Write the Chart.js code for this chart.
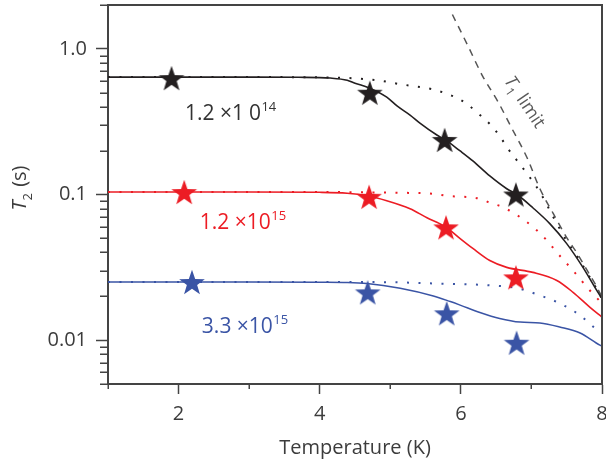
<!DOCTYPE html>
<html>
<head>
<meta charset="utf-8">
<script src="https://cdn.jsdelivr.net/npm/chart.js@4.4.1/dist/chart.umd.min.js"></script>
<style>
  html, body { margin: 0; padding: 0; background: #fff; }
  canvas { display: block; }
</style>
</head>
<body>
<canvas id="t2Chart" width="606" height="463"></canvas>
<script>
// axis ticks
const xTicks = [2, 4, 6, 8];
const xMinorTicks = [1, 3, 5, 7];
const yTicks = [0.01, 0.1, 1];
const yTickLabels = ['0.01', '0.1', '1.0'];
const yMinorTicks = [0.005, 0.006, 0.007, 0.008, 0.009,
                     0.02, 0.03, 0.04, 0.05, 0.06, 0.07, 0.08, 0.09,
                     0.2, 0.3, 0.4, 0.5, 0.6, 0.7, 0.8, 0.9, 2];

// measured T2 (stars)
const blackStarT = [1.9, 4.71, 5.77, 6.78];
const blackStarT2 = [0.63, 0.50, 0.237, 0.100];
const redStarT = [2.08, 4.70, 5.79, 6.78];
const redStarT2 = [0.104, 0.0965, 0.0595, 0.027];
const blueStarT = [2.19, 4.68, 5.80, 6.79];
const blueStarT2 = [0.0251, 0.0213, 0.0153, 0.0096];

// model curves (solid)
const blackFitT = [1, 2, 3, 3.7, 4.15, 4.39, 4.5, 4.71, 4.95, 5.10, 5.28, 5.42, 5.66, 5.78, 5.99, 6.17, 6.41, 6.65, 6.80, 7.02, 7.26, 7.50, 7.73, 7.97, 8.0];
const blackFitT2 = [0.64, 0.64, 0.64, 0.638, 0.63, 0.609, 0.581, 0.537, 0.466, 0.404, 0.351, 0.309, 0.256, 0.237, 0.199, 0.170, 0.134, 0.1095, 0.0996, 0.0811, 0.0631, 0.046, 0.0316, 0.0203, 0.0194];
const redFitT = [1, 2, 3, 4.0, 4.39, 4.67, 4.95, 5.28, 5.52, 5.70, 5.80, 5.99, 6.17, 6.41, 6.65, 7.02, 7.36, 7.59, 7.83, 8.0];
const redFitT2 = [0.104, 0.104, 0.104, 0.1035, 0.102, 0.098, 0.0906, 0.0799, 0.0693, 0.0631, 0.0592, 0.0498, 0.0426, 0.0352, 0.0316, 0.0292, 0.0257, 0.0213, 0.0168, 0.0144];
const blueFitT = [1, 2, 3, 4.0, 4.39, 4.67, 5.14, 5.61, 5.85, 5.99, 6.27, 6.55, 6.84, 7.12, 7.40, 7.69, 7.97, 8.0];
const blueFitT2 = [0.0251, 0.0251, 0.0251, 0.025, 0.0249, 0.0245, 0.0227, 0.0201, 0.0184, 0.0174, 0.0155, 0.0141, 0.0133, 0.0131, 0.0123, 0.0112, 0.00924, 0.0091];

// model curves (dotted)
const blackDotT = [1, 2, 3, 4.2, 4.81, 5.14, 5.59, 5.78, 5.95, 6.09, 6.24, 6.41, 6.55, 6.67, 6.80, 6.91, 7.12, 7.31, 7.50, 7.65, 7.79, 7.93, 8.0];
const blackDotT2 = [0.64, 0.64, 0.64, 0.635, 0.609, 0.572, 0.529, 0.496, 0.459, 0.417, 0.362, 0.305, 0.252, 0.2056, 0.170, 0.145, 0.104, 0.070, 0.048, 0.0375, 0.029, 0.0222, 0.0192];
const redDotT = [1, 2, 3, 4.0, 5.10, 5.61, 5.80, 6.27, 6.41, 6.58, 6.74, 6.91, 7.08, 7.22, 7.36, 7.50, 7.65, 7.79, 7.93, 8.0];
const redDotT2 = [0.104, 0.104, 0.104, 0.104, 0.1028, 0.1012, 0.098, 0.0935, 0.0878, 0.0824, 0.075, 0.0661, 0.0565, 0.0483, 0.040, 0.0336, 0.0278, 0.023, 0.0194, 0.0179];
const blueDotT = [1, 2, 3, 4.0, 5.0, 5.61, 6.41, 6.80, 7.12, 7.40, 7.69, 7.90, 8.0];
const blueDotT2 = [0.0251, 0.0251, 0.0251, 0.0251, 0.025, 0.0245, 0.0238, 0.0227, 0.0203, 0.0179, 0.0148, 0.0121, 0.0112];

// T1 limit (dashed)
const t1LimitT = [5.88, 6.09, 6.31, 6.53, 6.72, 6.94, 7.12, 7.31, 7.50, 7.65, 7.79, 7.93, 8.0];
const t1LimitT2 = [1.72, 1.073, 0.648, 0.43, 0.286, 0.178, 0.1095, 0.0739, 0.0506, 0.0393, 0.0301, 0.0230, 0.0197];

const FONT = '"Open Sans", "DejaVu Sans", sans-serif';
const textColor = '#3c3c3c';
const axisColor = '#444444';
const black = '#231f20';
const red = '#ec1c24';
const blue = '#3a54a5';

function toPoints(xs, ys) {
    return xs.map((x, i) => ({ x: x, y: ys[i] }));
}

function makeStar(color) {
    const c = document.createElement('canvas');
    c.width = 30;
    c.height = 32;
    const g = c.getContext('2d');
    g.beginPath();
    for (let i = 0; i < 10; i++) {
        const r = i % 2 ? 5.4 : 13.5;
        const a = -Math.PI / 2 + i * Math.PI / 5;
        g.lineTo(15 + r * Math.cos(a), 17.3 + r * Math.sin(a));
    }
    g.closePath();
    g.fillStyle = color;
    g.fill();
    return c;
}

function starSet(xs, ys, color) {
    return {
        data: toPoints(xs, ys),
        showLine: false,
        pointStyle: makeStar(color),
        pointRadius: 12,
        borderColor: color,
        backgroundColor: color
    };
}

function curve(xs, ys, color, dash, width) {
    return {
        data: toPoints(xs, ys),
        borderColor: color,
        borderWidth: width,
        borderDash: dash,
        pointRadius: 0,
        fill: false,
        cubicInterpolationMode: 'monotone'
    };
}

// no extra room for end labels: the plot box is fixed
function fixBox(s, size) {
    if (s.isHorizontal()) s.height = size; else s.width = size;
    s.paddingTop = 0;
    s.paddingBottom = 0;
    s.paddingLeft = 0;
    s.paddingRight = 0;
}

// draws "T" italic with a subscript, then the rest of the text
function drawSubLabel(ctx, sub, rest, size, color) {
    const big = size + 'px ' + FONT;
    const small = Math.round(size * 0.65) + 'px ' + FONT;
    ctx.font = 'italic ' + big;
    const wT = ctx.measureText('T').width;
    ctx.font = small;
    const wS = ctx.measureText(sub).width;
    ctx.font = big;
    const wR = ctx.measureText(rest).width;
    let x = -(wT + wS + 1 + wR) / 2;
    ctx.fillStyle = color;
    ctx.textBaseline = 'alphabetic';
    ctx.textAlign = 'left';
    ctx.font = 'italic ' + big;
    ctx.fillText('T', x, 0);
    x += wT;
    ctx.font = small;
    ctx.fillText(sub, x, size * 0.28);
    x += wS + 1;
    ctx.font = big;
    ctx.fillText(rest, x, 0);
}

// "m ×10^e"; gap widens the space inside "10" as in the black label
function drawSci(ctx, px, py, mant, exp, color, gap) {
    ctx.fillStyle = color;
    ctx.textAlign = 'left';
    ctx.textBaseline = 'alphabetic';
    ctx.font = '21px ' + FONT;
    const head = mant + ' \u00d71';
    ctx.fillText(head, px, py);
    let x = px + ctx.measureText(head).width + gap;
    ctx.fillText('0', x, py);
    x += ctx.measureText('0').width + 0.5;
    ctx.font = '13px ' + FONT;
    ctx.fillText(exp, x, py - 9);
}

const decor = {
    id: 'decor',
    afterDraw(chart) {
        const ctx = chart.ctx;
        const a = chart.chartArea;
        const xs = chart.scales.x;
        const ys = chart.scales.y;
        ctx.save();
        // frame top / right
        ctx.strokeStyle = axisColor;
        ctx.lineWidth = 2;
        ctx.beginPath();
        ctx.moveTo(a.left, a.top);
        ctx.lineTo(a.right, a.top);
        ctx.lineTo(a.right, a.bottom);
        ctx.stroke();
        // minor ticks
        ctx.lineWidth = 1.5;
        ctx.beginPath();
        xMinorTicks.forEach(v => {
            const p = Math.round(xs.getPixelForValue(v)) + 0.25;
            ctx.moveTo(p, a.bottom);
            ctx.lineTo(p, a.bottom + 5);
        });
        yMinorTicks.forEach(v => {
            const p = Math.round(ys.getPixelForValue(v)) + 0.25;
            ctx.moveTo(a.left, p);
            ctx.lineTo(a.left - 8, p);
        });
        ctx.stroke();

        // y axis title
        ctx.save();
        ctx.translate(26, 188);
        ctx.rotate(-Math.PI / 2);
        drawSubLabel(ctx, '2', ' (s)', 20, textColor);
        ctx.restore();

        // T1 limit label
        ctx.save();
        ctx.translate(xs.getPixelForValue(6.84), ys.getPixelForValue(0.41));
        ctx.rotate(56 * Math.PI / 180);
        drawSubLabel(ctx, '1', ' limit', 18, '#5a5a5a');
        ctx.restore();

        // concentration labels
        drawSci(ctx, xs.getPixelForValue(2.09), ys.getPixelForValue(0.3245), '1.2', '14', '#333333', 5);
        drawSci(ctx, xs.getPixelForValue(2.30), ys.getPixelForValue(0.0583), '1.2', '15', red, 0);
        drawSci(ctx, xs.getPixelForValue(2.33), ys.getPixelForValue(0.01116), '3.3', '15', blue, 0);
        ctx.restore();
    }
};

const chart = new Chart(document.getElementById('t2Chart').getContext('2d'), {
    type: 'line',
    data: {
        datasets: [
            starSet(blackStarT, blackStarT2, black),
            starSet(redStarT, redStarT2, red),
            starSet(blueStarT, blueStarT2, blue),
            curve(blackFitT, blackFitT2, black, [], 1.6),
            curve(redFitT, redFitT2, red, [], 1.6),
            curve(blueFitT, blueFitT2, blue, [], 1.5),
            curve(blackDotT, blackDotT2, black, [2, 9.5], 2),
            curve(redDotT, redDotT2, red, [2, 9.5], 2),
            curve(blueDotT, blueDotT2, blue, [2, 9.5], 2),
            curve(t1LimitT, t1LimitT2, '#555555', [7, 6], 1.5)
        ]
    },
    options: {
        responsive: false,
        animation: false,
        events: [],
        layout: { autoPadding: false, padding: { top: 5, right: 4, left: 0, bottom: 0 } },
        plugins: {
            legend: { display: false },
            tooltip: { enabled: false }
        },
        scales: {
            x: {
                type: 'linear',
                min: 1,
                max: 8,
                afterBuildTicks: s => { s.ticks = xTicks.map(v => ({ value: v })); },
                afterFit: s => fixBox(s, 79),
                ticks: {
                    autoSkip: false,
                    maxRotation: 0,
                    padding: 8,
                    color: textColor,
                    font: { family: FONT, size: 20 }
                },
                grid: { drawOnChartArea: false, tickLength: 10, tickWidth: 1.5, tickColor: axisColor },
                border: { color: axisColor, width: 2 },
                title: {
                    display: true,
                    text: 'Temperature (K)',
                    color: textColor,
                    font: { family: FONT, size: 20 },
                    padding: { top: 0, bottom: 3 }
                }
            },
            y: {
                type: 'logarithmic',
                min: 0.005,
                max: 2,
                afterBuildTicks: s => { s.ticks = yTicks.map(v => ({ value: v })); },
                afterFit: s => fixBox(s, 108),
                ticks: {
                    autoSkip: false,
                    padding: 9,
                    color: textColor,
                    font: { family: FONT, size: 20 },
                    callback: v => {
                        const i = yTicks.indexOf(v);
                        return i >= 0 ? yTickLabels[i] : '';
                    }
                },
                grid: { drawOnChartArea: false, tickLength: 12, tickWidth: 1.5, tickColor: axisColor },
                border: { color: axisColor, width: 2 }
            }
        }
    },
    plugins: [decor]
});
</script>
</body>
</html>
